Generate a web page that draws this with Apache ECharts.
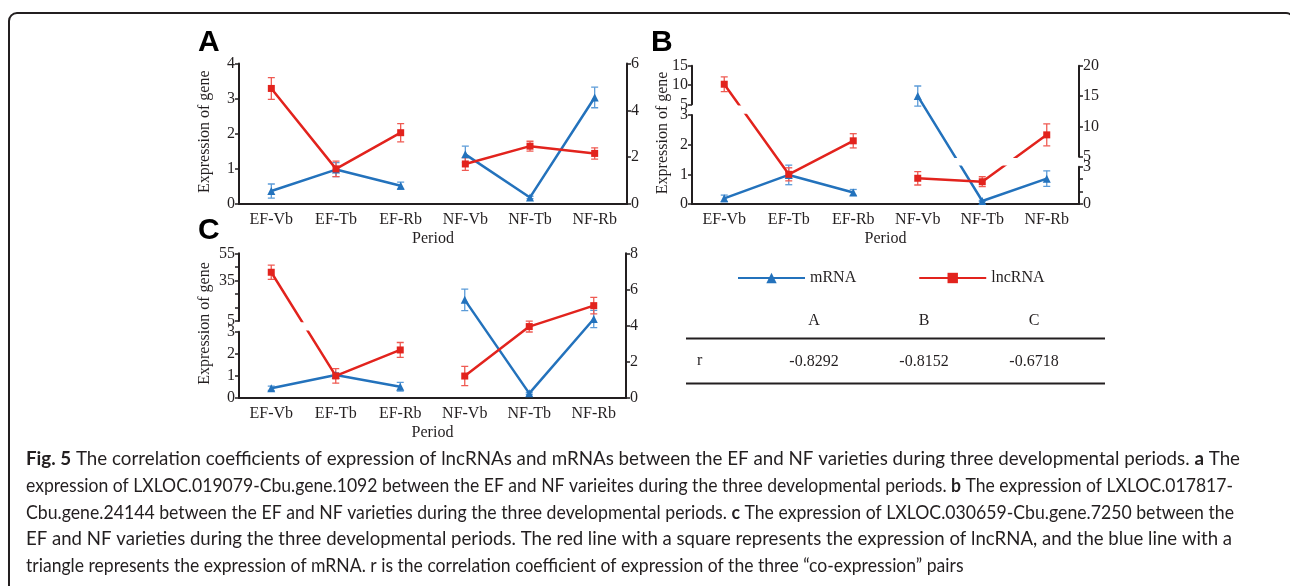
<!DOCTYPE html>
<html>
<head>
<meta charset="utf-8">
<script src="https://cdn.jsdelivr.net/npm/echarts@6/dist/echarts.min.js"></script>
<style>
  html, body { margin: 0; padding: 0; background: #fff; }
  #chart { width: 1290px; height: 586px; }
</style>
</head>
<body>
<div id="chart"></div>
<script>
var periods = ["EF-Vb", "EF-Tb", "EF-Rb", "NF-Vb", "NF-Tb", "NF-Rb"];

// panel A
var mrnaA = [0.37, 0.98, 0.52, 2.12, 0.28, 4.55];
var mrnaErrA = [0.2, 0.2, 0.1, 0.35, 0.05, 0.44];
var lncA = [3.29, 1.0, 2.03, 1.71, 2.47, 2.16];
var lncErrA = [0.31, 0.22, 0.26, 0.27, 0.21, 0.24];

// panel B
var mrnaB = [0.19, 0.98, 0.39, 15.0, 0.24, 2.04];
var mrnaErrB = [0.11, 0.33, 0.1, 1.65, 0.05, 0.63];
var lncB = [10.2, 1.0, 2.13, 2.07, 1.79, 8.6];
var lncErrB = [1.9, 0.22, 0.24, 0.54, 0.4, 1.8];

// panel C
var mrnaC = [0.43, 1.03, 0.5, 5.42, 0.24, 4.36];
var mrnaErrC = [0.1, 0.1, 0.2, 0.6, 0.05, 0.48];
var lncC = [41, 0.99, 2.17, 1.2, 3.94, 5.1];
var lncErrC = [5.3, 0.33, 0.34, 0.53, 0.3, 0.46];

// correlation table
var tableCols = ["A", "B", "C"];
var rValues = [-0.8292, -0.8152, -0.6718];

var captionLines = [
    "{b|Fig. 5} The correlation coefficients of expression of lncRNAs and mRNAs between the EF and NF varieties during three developmental periods. {b|a} The",
    "expression of LXLOC.019079-Cbu.gene.1092 between the EF and NF varieites during the three developmental periods. {b|b} The expression of LXLOC.017817-",
    "Cbu.gene.24144 between the EF and NF varieties during the three developmental periods. {b|c} The expression of LXLOC.030659-Cbu.gene.7250 between the",
    "EF and NF varieties during the three developmental periods. The red line with a square represents the expression of lncRNA, and the blue line with a",
    "triangle represents the expression of mRNA. r is the correlation coefficient of expression of the three \u201cco-expression\u201d pairs"
];
// right edge of each justified caption line (last line is left ragged)
var captionEnds = [1240, 1233, 1234, 1232, null];

var ink = "#231f20";
var blue = "#2372bc";
var red = "#e2231d";
var blueErr = "#5b9bd8";
var redErr = "#ef5a52";
var serif = '"Liberation Serif", "Times New Roman", serif';
var capFamily = 'Lato, "Noto Sans", sans-serif';
var capSize = 18.8;

// EF points read on the left axis, NF points on the right one
var panels = [
    {
        letter: "A", letterPos: [198, 43], nameX: 205,
        left: 239, width: 388, top: 63.5, bottom: 204,
        mrna: mrnaA, mrnaErr: mrnaErrA, lnc: lncA, lncErr: lncErrA,
        leftSegs: [{min: 0, max: 4, interval: 1, top: 63.5, bottom: 204}],
        rightSegs: [{min: 0, max: 6, interval: 2, top: 63.5, bottom: 204}]
    },
    {
        letter: "B", letterPos: [651, 43], nameX: 663,
        left: 692, width: 387, top: 65.7, bottom: 204,
        mrna: mrnaB, mrnaErr: mrnaErrB, lnc: lncB, lncErr: lncErrB,
        leftSegs: [
            {min: 0, max: 3, interval: 1, top: 115, bottom: 204},
            {min: 5, max: 15, interval: 5, top: 65.7, bottom: 104.3}
        ],
        rightSegs: [
            {min: 0, max: 3, interval: 1, top: 166.7, bottom: 204, labels: [0, 3]},
            {min: 5, max: 20, interval: 5, top: 65.7, bottom: 156.7}
        ]
    },
    {
        letter: "C", letterPos: [198, 231], nameX: 205,
        left: 239, width: 387, top: 253.3, bottom: 397.7,
        mrna: mrnaC, mrnaErr: mrnaErrC, lnc: lncC, lncErr: lncErrC,
        leftSegs: [
            {min: 0, max: 3, interval: 1, top: 331.7, bottom: 397.7},
            {min: 5, max: 55, interval: 10, base: 5, top: 253.3, bottom: 321, labels: [5, 35, 55]}
        ],
        rightSegs: [{min: 0, max: 8, interval: 2, top: 253.3, bottom: 397.7}]
    }
];

// pixel height of a value on a broken axis (segments listed bottom first)
function valToPx(segs, v) {
    var i, s;
    for (i = 0; i < segs.length; i++) {
        s = segs[i];
        if (v >= s.min && v <= s.max) {
            return s.bottom - (v - s.min) / (s.max - s.min) * (s.bottom - s.top);
        }
        if (i + 1 < segs.length && v > s.max && v < segs[i + 1].min) {
            var t = (v - s.max) / (segs[i + 1].min - s.max);
            return s.top + t * (segs[i + 1].bottom - s.top);
        }
    }
    s = v < segs[0].min ? segs[0] : segs[segs.length - 1];
    return s.bottom - (v - s.min) / (s.max - s.min) * (s.bottom - s.top);
}

// value in the units of one segment's own axis, so lines stay straight across the break
function segValue(segs, seg, v) {
    var px = valToPx(segs, v);
    return seg.min + (seg.bottom - px) / (seg.bottom - seg.top) * (seg.max - seg.min) - (seg.base || 0);
}

function errItem(params, api) {
    var x = api.value(0);
    var a = api.coord([x, api.value(1)]);
    var b = api.coord([x, api.value(2)]);
    var w = 3.5;
    var st = {stroke: api.visual("color"), lineWidth: 1.3};
    return {
        type: "group",
        children: [
            {type: "line", shape: {x1: a[0], y1: a[1], x2: b[0], y2: b[1]}, style: st},
            {type: "line", shape: {x1: a[0] - w, y1: a[1], x2: a[0] + w, y2: a[1]}, style: st},
            {type: "line", shape: {x1: b[0] - w, y1: b[1], x2: b[0] + w, y2: b[1]}, style: st}
        ]
    };
}

// width of a caption line with {b|...} parts in bold
var measureCtx = document.createElement("canvas").getContext("2d");
function captionWidth(t, size) {
    var w = 0;
    t.split(/(\{b\|[^}]*\})/).forEach(function (part) {
        if (!part) return;
        var m = part.match(/^\{b\|([^}]*)\}$/);
        measureCtx.font = (m ? "bold " : "") + size + "px " + capFamily;
        w += measureCtx.measureText(m ? m[1] : part).width;
    });
    return w;
}

var grids = [], xAxes = [], yAxes = [], series = [], graphics = [];

panels.forEach(function (p) {
    ["left", "right"].forEach(function (side) {
        var segs = side == "left" ? p.leftSegs : p.rightSegs;
        var idx = side == "left" ? [0, 1, 2] : [3, 4, 5];
        segs.forEach(function (seg, si) {
            var g = grids.length;
            var isMain = side == "left" && si == 0;
            var base = seg.base || 0;
            grids.push({left: p.left, width: p.width, top: seg.top, height: seg.bottom - seg.top});
            xAxes.push({
                gridIndex: g, type: "category", data: periods, show: isMain,
                axisLine: {onZero: false, lineStyle: {color: ink, width: 2}},
                axisTick: {alignWithLabel: true, length: 4, lineStyle: {color: ink, width: 1.5}},
                axisLabel: {color: ink, fontFamily: serif, fontSize: 16, margin: 8},
                name: isMain ? "Period" : "", nameLocation: "middle", nameGap: 27,
                nameTextStyle: {color: ink, fontFamily: serif, fontSize: 16}
            });
            yAxes.push({
                gridIndex: g, type: "value", position: side,
                min: seg.min - base, max: seg.max - base, interval: seg.interval,
                splitLine: {show: false},
                axisLine: {show: true, onZero: false, lineStyle: {color: ink, width: 2}},
                axisTick: {show: true, length: 4, lineStyle: {color: ink, width: 1.5}},
                axisLabel: {
                    color: ink, fontFamily: serif, fontSize: 16, margin: 4,
                    formatter: function (val) {
                        var real = Math.round((val + base) * 100) / 100;
                        if (seg.labels && seg.labels.indexOf(real) < 0) return "";
                        return String(real);
                    }
                }
            });
            [
                {name: "mRNA", vals: p.mrna, errs: p.mrnaErr, color: blue, errColor: blueErr, symbol: "triangle", size: 8},
                {name: "lncRNA", vals: p.lnc, errs: p.lncErr, color: red, errColor: redErr, symbol: "rect", size: 7}
            ].forEach(function (s) {
                var lineData = periods.map(function (c, i) {
                    return idx.indexOf(i) >= 0 ? segValue(segs, seg, s.vals[i]) : "-";
                });
                var errData = [];
                idx.forEach(function (i) {
                    var v = s.vals[i];
                    if (v >= seg.min && v <= seg.max) {
                        errData.push([i, segValue(segs, seg, v + s.errs[i]), segValue(segs, seg, v - s.errs[i])]);
                    }
                });
                series.push({
                    type: "custom", xAxisIndex: g, yAxisIndex: g, clip: true, z: 2,
                    itemStyle: {color: s.errColor}, encode: {x: 0, y: [1, 2]},
                    renderItem: errItem, data: errData, silent: true
                });
                series.push({
                    type: "line", name: s.name, xAxisIndex: g, yAxisIndex: g, clip: true, z: 3,
                    data: lineData, symbol: s.symbol, symbolSize: s.size,
                    itemStyle: {color: s.color}, lineStyle: {color: s.color, width: 2.5},
                    emphasis: {disabled: true}
                });
            });
        });
    });

    graphics.push({
        type: "text", x: p.letterPos[0], y: p.letterPos[1],
        style: {text: p.letter, font: 'bold 30px "Liberation Sans", Arial, sans-serif', fill: "#000",
                align: "left", verticalAlign: "middle", textAlign: "left", textVerticalAlign: "middle"}
    });
    graphics.push({
        type: "text", x: p.nameX, y: (p.top + p.bottom) / 2 - 2, rotation: Math.PI / 2,
        style: {text: "Expression of gene", font: "16px " + serif, fill: ink,
                align: "center", verticalAlign: "middle", textAlign: "center", textVerticalAlign: "middle"}
    });
});

// table of r
var colX = [814, 924, 1034];
tableCols.forEach(function (c, i) {
    graphics.push({
        type: "text", x: colX[i], y: 321,
        style: {text: c, font: "16px " + serif, fill: ink, align: "center", verticalAlign: "middle",
                textAlign: "center", textVerticalAlign: "middle"}
    });
    graphics.push({
        type: "text", x: colX[i], y: 362,
        style: {text: rValues[i].toFixed(4), font: "16px " + serif, fill: ink, align: "center",
                verticalAlign: "middle", textAlign: "center", textVerticalAlign: "middle"}
    });
});
graphics.push({
    type: "text", x: 697, y: 361,
    style: {text: "r", font: "16px " + serif, fill: ink, align: "left", verticalAlign: "middle",
            textAlign: "left", textVerticalAlign: "middle"}
});
graphics.push({type: "line", shape: {x1: 686, y1: 338.5, x2: 1105, y2: 338.5}, style: {stroke: ink, lineWidth: 2}});
graphics.push({type: "line", shape: {x1: 686, y1: 383.5, x2: 1105, y2: 383.5}, style: {stroke: ink, lineWidth: 2}});

// caption: one font size, each justified line squeezed to its width in the figure
var capX = 26;
var capFont = capSize + "px " + capFamily;
captionLines.forEach(function (t, i) {
    var sx = 1;
    if (captionEnds[i] != null) {
        sx = Math.min(1, (captionEnds[i] - capX) / captionWidth(t, capSize));
    } else {
        sx = Math.min(1, (captionEnds[1] - capX) / captionWidth(captionLines[1], capSize));
    }
    graphics.push({
        type: "text", x: capX, y: 459 + i * 26.8, scaleX: sx,
        style: {
            text: t, font: capFont, fill: "#231f20",
            align: "left", verticalAlign: "middle", textAlign: "left", textVerticalAlign: "middle",
            rich: {b: {font: "bold " + capFont, fill: "#231f20"}}
        }
    });
});

// frame
graphics.push({
    type: "rect", z: 100,
    shape: {x: 9, y: 13, width: 1285, height: 640, r: 8},
    style: {fill: "rgba(0,0,0,0)", stroke: ink, lineWidth: 2}
});

var chart = echarts.init(document.getElementById("chart"), null, {renderer: "canvas"});
chart.setOption({
    animation: false,
    backgroundColor: "#fff",
    grid: grids,
    xAxis: xAxes,
    yAxis: yAxes,
    series: series,
    legend: {
        data: ["mRNA", "lncRNA"], left: 737, top: 270, padding: 0,
        itemWidth: 67, itemHeight: 13, itemGap: 62,
        textStyle: {color: ink, fontFamily: serif, fontSize: 16},
        selectedMode: false
    },
    graphic: graphics
});
</script>
</body>
</html>
